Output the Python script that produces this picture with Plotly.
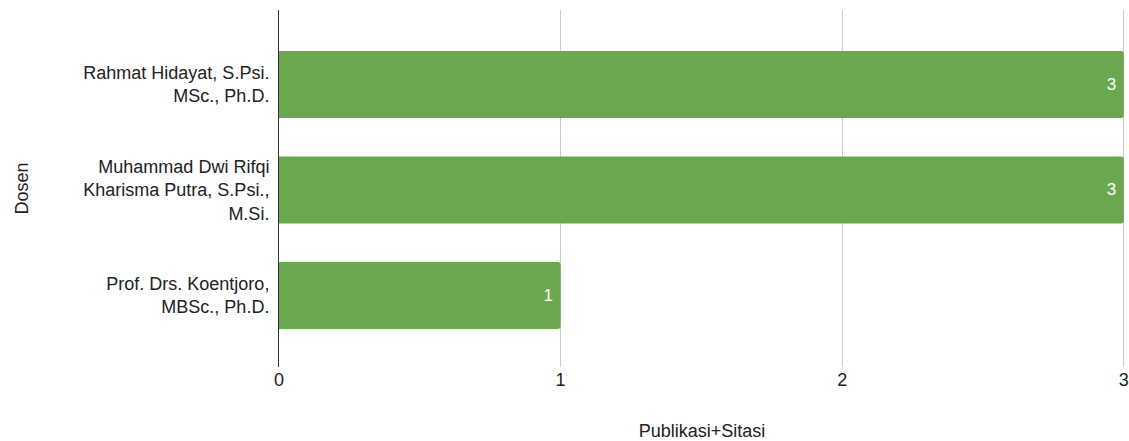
import plotly.graph_objects as go

dosen = [
    "Rahmat Hidayat, S.Psi.<br>MSc., Ph.D.",
    "Muhammad Dwi Rifqi<br>Kharisma Putra, S.Psi.,<br>M.Si.",
    "Prof. Drs. Koentjoro,<br>MBSc., Ph.D.",
]
publikasi_sitasi = [3, 3, 1]
x_ticks = [0, 1, 2, 3]

font_family = "Liberation Sans, Arial, sans-serif"
text_color = "#222222"

fig = go.Figure(
    go.Bar(
        y=dosen,
        x=publikasi_sitasi,
        orientation="h",
        marker=dict(color="#6aa84f", line=dict(width=0), cornerradius=3),
        width=0.635,
        text=[f"{v}&nbsp;" for v in publikasi_sitasi],
        textposition="inside",
        insidetextanchor="end",
        textfont=dict(color="white", size=17, family=font_family),
        hoverinfo="skip",
    )
)

fig.update_layout(
    width=1129,
    height=441,
    margin=dict(l=279, r=4, t=10, b=74),
    paper_bgcolor="white",
    plot_bgcolor="white",
    font=dict(family=font_family, size=18, color=text_color),
    showlegend=False,
)

fig.update_xaxes(
    range=[0, 3.004],
    tickvals=x_ticks,
    showgrid=True,
    gridcolor="#cccccc",
    gridwidth=1,
    zeroline=False,
    showline=False,
    ticks="",
    automargin=False,
    tickfont=dict(size=18, color=text_color),
    title=dict(text="Publikasi+Sitasi", font=dict(size=18, color=text_color), standoff=37),
)

fig.update_yaxes(
    type="category",
    range=[2.678, -0.706],
    showgrid=False,
    showline=True,
    linecolor="#333333",
    linewidth=1,
    ticks="",
    automargin=False,
    ticklabelstandoff=5,
    tickfont=dict(size=18, color=text_color),
    title=dict(text="Dosen", font=dict(size=18, color=text_color), standoff=50),
)

fig.write_html("out.html")
